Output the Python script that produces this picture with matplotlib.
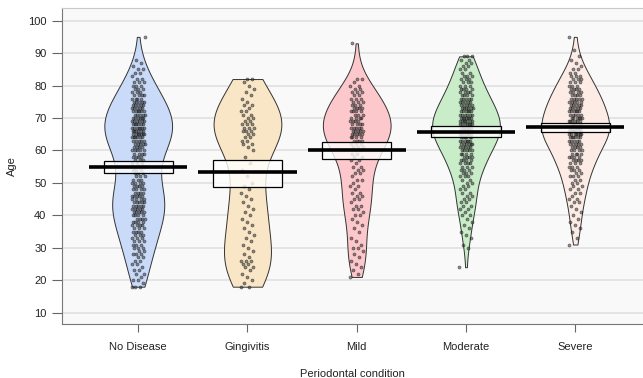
import numpy as np
import matplotlib
matplotlib.use('Agg')
import matplotlib.pyplot as plt
from matplotlib.patches import Rectangle

plt.rcParams['font.family'] = ['Liberation Sans', 'DejaVu Sans']
plt.rcParams['font.size'] = 8

# groups, colours and summary values
groups = ['No Disease', 'Gingivitis', 'Mild', 'Moderate', 'Severe']
colors = ['#c9dbf9', '#f8e6c6', '#fdc8cc', '#c9ecc9', '#fcece5']
means = [55.0, 53.2, 60.0, 65.8, 67.2]
ci_low = [53.0, 48.8, 57.4, 64.0, 65.6]
ci_high = [56.7, 57.2, 62.6, 67.4, 68.6]

# number of people at each age (first age, then counts per year)
nodisease_start = 18
nodisease_counts = [3, 1, 2, 1, 2, 2, 1, 2, 2, 2,
                    3, 2, 3, 3, 3, 3, 3, 4, 3, 4,
                    4, 4, 4, 5, 5, 5, 5, 4, 5, 4,
                    4, 4, 4, 3, 3, 3, 3, 3, 3, 3,
                    4, 4, 5, 4, 5, 5, 6, 7, 6, 7,
                    6, 6, 6, 5, 6, 5, 5, 5, 4, 4,
                    3, 3, 3, 3, 2, 1, 2, 2, 1, 1,
                    1, 0, 0, 0, 0, 0, 0, 1]
gingivitis_start = 18
gingivitis_counts = [2, 1, 1, 1, 1, 1, 2, 2, 3, 1,
                     1, 1, 1, 1, 1, 1, 1, 1, 1, 1,
                     1, 1, 1, 1, 1, 1, 1, 1, 1, 1,
                     1, 1, 1, 0, 1, 0, 1, 0, 1, 0,
                     1, 0, 1, 1, 2, 2, 2, 2, 3, 3,
                     3, 2, 2, 2, 2, 1, 2, 1, 1, 1,
                     1, 1, 1, 1, 2]
mild_start = 21
mild_counts = [1, 1, 1, 1, 1, 1, 1, 1, 1, 2,
               1, 1, 1, 0, 1, 1, 1, 1, 1, 2,
               1, 2, 2, 1, 2, 2, 2, 1, 2, 1,
               2, 1, 2, 2, 2, 1, 2, 2, 2, 2,
               3, 3, 4, 4, 5, 5, 5, 4, 4, 4,
               3, 4, 4, 3, 3, 3, 2, 3, 2, 2,
               1, 2, 0, 0, 0, 0, 0, 0, 0, 0,
               0, 0, 1]
moderate_start = 24
moderate_counts = [1, 0, 0, 0, 0, 0, 1, 1, 0, 1,
                   1, 1, 1, 1, 1, 1, 2, 1, 2, 2,
                   2, 2, 2, 2, 2, 2, 2, 2, 3, 3,
                   3, 3, 4, 4, 4, 4, 5, 5, 6, 6,
                   6, 7, 7, 7, 7, 7, 7, 6, 6, 6,
                   5, 5, 5, 4, 4, 4, 3, 3, 3, 3,
                   2, 2, 2, 2, 2, 3]
severe_start = 31
severe_counts = [1, 0, 1, 0, 1, 1, 1, 1, 1, 1,
                 1, 1, 1, 2, 2, 1, 2, 2, 2, 2,
                 2, 3, 2, 3, 3, 3, 4, 4, 4, 4,
                 4, 5, 5, 6, 7, 7, 6, 6, 6, 6,
                 5, 6, 5, 5, 5, 5, 4, 4, 4, 3,
                 3, 3, 3, 2, 2, 1, 1, 1, 1, 0,
                 1, 0, 0, 0, 1]

starts = [nodisease_start, gingivitis_start, mild_start, moderate_start, severe_start]
counts = [nodisease_counts, gingivitis_counts, mild_counts, moderate_counts, severe_counts]
ages = [np.repeat(np.arange(s, s + len(c)), c) for s, c in zip(starts, counts)]

positions = np.arange(1, len(groups) + 1)

fig = plt.figure(figsize=(6.43, 3.78), dpi=100)
ax = fig.add_axes([0.096, 0.142, 0.904, 0.836])
ax.set_facecolor('#f9f9f9')

ax.set_xlim(0.3, 5.62)
ax.set_ylim(6.4, 103.8)
ax.set_yticks(range(10, 101, 10))
for v in range(10, 101, 10):
    ax.axhline(v, color='#e0e0e0', lw=1.2, zorder=0)

for i, (p, a) in enumerate(zip(positions, ages)):
    # nrd0 style bandwidth, as a factor of the sample sd
    sd = np.std(a, ddof=1)
    iqr = np.subtract(*np.percentile(a, [75, 25]))
    bw = 0.9 * min(sd, iqr / 1.34) * len(a) ** -0.2
    parts = ax.violinplot([a], positions=[p], widths=0.62, showextrema=False,
                          bw_method=bw / sd)
    for body in parts['bodies']:
        body.set_facecolor(colors[i])
        body.set_edgecolor('#333333')
        body.set_linewidth(0.7)
        body.set_alpha(1)
        body.set_zorder(1)

    # deterministic jitter
    k = np.arange(len(a))
    jit = ((k * 0.6180339887) % 1 - 0.5) * 0.12
    ax.scatter(p + jit, a, s=5, facecolor='#3a3a3a', edgecolor='black',
               linewidths=0.4, alpha=0.55, zorder=3)

    ax.add_patch(Rectangle((p - 0.317, ci_low[i]), 0.634, ci_high[i] - ci_low[i],
                           facecolor=(1, 1, 1, 0.8), edgecolor='black',
                           lw=0.9, zorder=4))
    ax.plot([p - 0.45, p + 0.45], [means[i], means[i]], color='black', lw=2.6,
            solid_capstyle='butt', zorder=5)

ax.set_xticks(positions)
ax.set_xticklabels(groups)
ax.tick_params(axis='x', length=6, pad=7, color='#666666', labelcolor='#222222')
ax.tick_params(axis='y', length=7, pad=4, color='#666666', labelcolor='#222222')

for s in ['left', 'bottom']:
    ax.spines[s].set_color('#777777')
ax.spines['top'].set_color('#c8c8c8')
ax.spines['right'].set_visible(False)

ax.set_xlabel('Periodontal condition', color='#222222', labelpad=12)
ax.set_ylabel('Age', color='#222222', labelpad=8)

fig.savefig('out.png', dpi=100)
